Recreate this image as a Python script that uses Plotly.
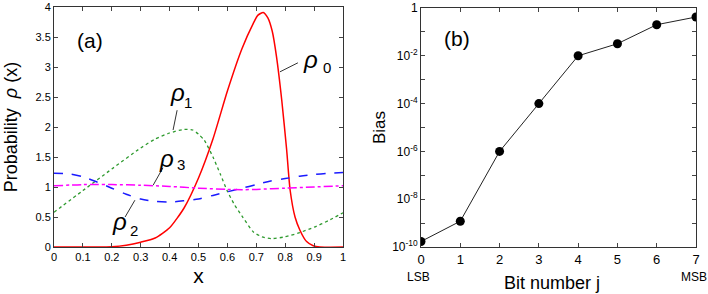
import plotly.graph_objects as go

# ---------------- data: panel (a) ----------------
x_rho0 = [0, 0.1, 0.2, 0.25, 0.3, 0.35, 0.4, 0.45, 0.5, 0.55, 0.6, 0.65, 0.69,
          0.705, 0.724, 0.74, 0.755, 0.77, 0.788, 0.805, 0.817, 0.834, 0.851, 0.874, 0.897, 0.92, 1.0]
y_rho0 = [0, 0, 0.005, 0.03, 0.08, 0.15, 0.32, 0.65, 1.15, 1.8, 2.6, 3.3, 3.73,
          3.86, 3.91, 3.82, 3.6, 3.17, 2.45, 1.62, 0.95, 0.5, 0.28, 0.09, 0.02, 0, 0]

x_rho1 = [0, 0.1, 0.2, 0.3, 0.35, 0.4, 0.45, 0.48, 0.5, 0.52, 0.55, 0.575, 0.6, 0.625, 0.65,
          0.69, 0.72, 0.753, 0.8, 0.85, 0.9, 0.95, 1.0]
y_rho1 = [0.58, 0.94, 1.3, 1.65, 1.8, 1.9, 1.96, 1.95, 1.88, 1.78, 1.5, 1.22, 0.93, 0.7, 0.52,
          0.25, 0.17, 0.14, 0.17, 0.24, 0.33, 0.44, 0.57]

x_rho2 = [0, 0.05, 0.1, 0.15, 0.2, 0.25, 0.3, 0.35, 0.4, 0.45, 0.5, 0.55, 0.6, 0.65, 0.7,
          0.75, 0.8, 0.85, 0.9, 0.95, 1.0]
y_rho2 = [1.23, 1.22, 1.17, 1.08, 0.98, 0.88, 0.8, 0.76, 0.75, 0.77, 0.8, 0.86, 0.92, 0.98, 1.04,
          1.1, 1.14, 1.18, 1.21, 1.23, 1.24]

x_rho3 = [0, 0.1, 0.15, 0.2, 0.3, 0.4, 0.5, 0.6, 0.65, 0.7, 0.8, 0.9, 1.0]
y_rho3 = [1.02, 1.04, 1.04, 1.04, 1.03, 1.01, 0.98, 0.96, 0.955, 0.96, 0.98, 1.0, 1.02]

xa_ticks = [0, 0.1, 0.2, 0.3, 0.4, 0.5, 0.6, 0.7, 0.8, 0.9, 1]
xa_labels = ["0", "0.1", "0.2", "0.3", "0.4", "0.5", "0.6", "0.7", "0.8", "0.9", "1"]
ya_ticks = [0, 0.5, 1, 1.5, 2, 2.5, 3, 3.5, 4]
ya_labels = ["0", "0.5", "1", "1.5", "2", "2.5", "3", "3.5", "4"]

# ---------------- data: panel (b) ----------------
bits = [0, 1, 2, 3, 4, 5, 6, 7]
bias = [1.7e-10, 1.2e-9, 1.0e-6, 1.0e-4, 1.0e-2, 3.2e-2, 0.2, 0.42]
yb_ticks = [1e-10, 1e-9, 1e-8, 1e-7, 1e-6, 1e-5, 1e-4, 1e-3, 1e-2, 1e-1, 1]
yb_labels = ["10<sup>-10</sup>", "", "10<sup>-8</sup>", "", "10<sup>-6</sup>", "",
             "10<sup>-4</sup>", "", "10<sup>-2</sup>", "", "1"]

FONT = "Liberation Sans, Arial, Helvetica, sans-serif"

fig = go.Figure()
fig.add_trace(go.Scatter(x=x_rho0, y=y_rho0, mode="lines", line=dict(color="#ff0000", width=1.5, shape="spline", smoothing=0.6),
                         xaxis="x", yaxis="y", showlegend=False))
fig.add_trace(go.Scatter(x=x_rho1, y=y_rho1, mode="lines", line=dict(color="#2e9a2e", width=1.3, dash="dot", shape="spline", smoothing=0.6),
                         xaxis="x", yaxis="y", showlegend=False))
fig.add_trace(go.Scatter(x=x_rho2, y=y_rho2, mode="lines", line=dict(color="#1a1aff", width=1.5, dash="dash", shape="spline", smoothing=0.8),
                         xaxis="x", yaxis="y", showlegend=False))
fig.add_trace(go.Scatter(x=x_rho3, y=y_rho3, mode="lines", line=dict(color="#ff00ff", width=1.5, dash="dashdot", shape="spline", smoothing=0.8),
                         xaxis="x", yaxis="y", showlegend=False))

fig.add_trace(go.Scatter(x=bits, y=bias, mode="lines+markers",
                         line=dict(color="#222222", width=1),
                         marker=dict(color="black", size=9),
                         xaxis="x2", yaxis="y2", showlegend=False))

axis_common = dict(showline=True, linecolor="#333333", linewidth=1, mirror="ticks",
                   ticks="inside", ticklen=4, tickcolor="#444444", showgrid=False, zeroline=False,
                   automargin=False)

fig.update_layout(
    template="none",
    width=708, height=294, autosize=False,
    margin=dict(l=0, r=0, t=0, b=0, autoexpand=False),
    paper_bgcolor="white", plot_bgcolor="white",
    font=dict(family=FONT, color="black"),
    xaxis=dict(domain=[54/708, 343/708], range=[0, 1], tickvals=xa_ticks, ticktext=xa_labels,
               tickfont=dict(family=FONT, size=11, color="black"),
               anchor="y", title=dict(text="x", font=dict(size=21, family=FONT), standoff=6), **axis_common),
    yaxis=dict(domain=[47/294, 287/294], range=[0, 4], tickvals=ya_ticks, ticktext=ya_labels,
               tickfont=dict(family=FONT, size=11, color="black"),
               anchor="x", title=dict(text="Probability  <i>ρ</i> (x)", font=dict(size=18, family=FONT), standoff=13), **axis_common),
    xaxis2=dict(domain=[421/708, 696/708], range=[0, 7], tickvals=bits, ticktext=[str(b) for b in bits],
                tickfont=dict(family=FONT, size=13, color="black"),
                anchor="y2", **axis_common),
    yaxis2=dict(domain=[47/294, 286/294], type="log", range=[-10, 0], tickvals=yb_ticks, ticktext=yb_labels,
                tickfont=dict(family=FONT, size=12, color="black"),
                anchor="x2", title=dict(text="Bias", font=dict(size=17, family=FONT), standoff=2), **axis_common),
)

# leader lines (panel a)
leaders = [((0.782, 2.92), (0.844, 3.07)),
           ((0.412, 1.95), (0.426, 2.28)),
           ((0.343, 1.03), (0.377, 1.32)),
           ((0.246, 0.50), (0.280, 0.78))]
for (x0, y0), (x1, y1) in leaders:
    fig.add_shape(type="line", x0=x0, y0=y0, x1=x1, y1=y1, xref="x", yref="y",
                  line=dict(color="#333333", width=1))

labels = [("ρ", "0", (0.889, 3.12), (0.945, 3.0)),
          ("ρ", "1", (0.426, 2.58), (0.462, 2.41)),
          ("ρ", "3", (0.388, 1.47), (0.44, 1.38)),
          ("ρ", "2", (0.228, 0.42), (0.277, 0.28))]
for g, s, (gx, gy), (sx, sy) in labels:
    fig.add_annotation(x=gx, y=gy, xref="x", yref="y", text="<i>%s</i>" % g, showarrow=False,
                       font=dict(size=24, family=FONT, color="black"))
    fig.add_annotation(x=sx, y=sy, xref="x", yref="y", text=s, showarrow=False,
                       font=dict(size=15, family=FONT, color="black"))

fig.add_annotation(x=0.125, y=3.45, xref="x", yref="y", text="(a)", showarrow=False,
                   font=dict(size=21, family=FONT, color="black"))
fig.add_annotation(x=0.92, y=-1.26, xref="x2", yref="y2", text="(b)", showarrow=False,
                   font=dict(size=21, family=FONT, color="black"))
fig.add_annotation(x=418/708, y=1 - 277/294, xref="paper", yref="paper", text="LSB", showarrow=False,
                   xanchor="center", yanchor="middle", font=dict(size=12, family=FONT, color="black"))
fig.add_annotation(x=694/708, y=1 - 277/294, xref="paper", yref="paper", text="MSB", showarrow=False,
                   xanchor="center", yanchor="middle", font=dict(size=12, family=FONT, color="black"))
fig.add_annotation(x=552/708, y=1 - 283/294, xref="paper", yref="paper", text="Bit number j", showarrow=False,
                   xanchor="center", yanchor="middle", font=dict(size=18, family=FONT, color="black"))

fig.write_html("out.html", config={"displayModeBar": False},
               post_script="document.body.style.margin='0';document.body.style.overflow='hidden';")
